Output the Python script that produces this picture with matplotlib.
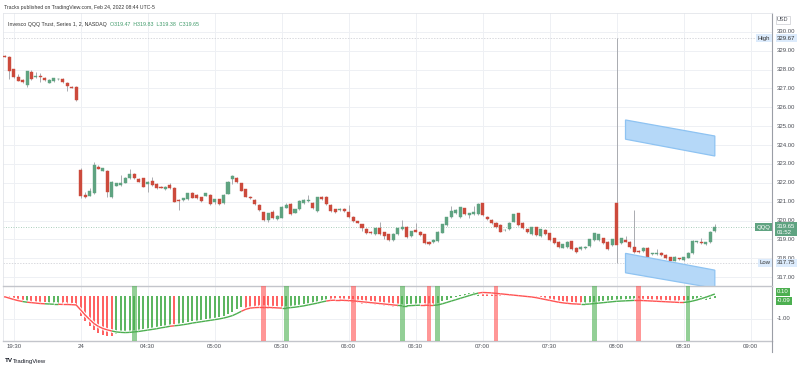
import numpy as np
import pandas as pd
import matplotlib
matplotlib.use('Agg')
import matplotlib.pyplot as plt
from matplotlib.patches import Polygon
from matplotlib.collections import LineCollection
from matplotlib.lines import Line2D
import matplotlib.transforms as mtrans

# QQQ, 2-minute bars, Feb 23 19:26 -> 19:58 and Feb 24 04:00 -> 08:44
bar_open = [
    328.72, 328.66, 328.02, 327.60, 327.45, 327.20, 327.88, 327.60, 327.68, 327.54,
    327.31, 327.42, 327.48, 327.50, 327.31, 327.10, 327.10, 322.68, 321.35, 321.32,
    321.44, 322.86, 322.63, 322.64, 321.27, 321.85, 321.88, 322.00, 322.24, 322.45,
    322.20, 322.24, 321.92, 322.10, 321.94, 321.78, 321.67, 321.87, 321.74, 321.08,
    321.07, 321.12, 321.48, 321.34, 321.23, 321.32, 321.35, 320.97, 321.12, 320.91,
    321.41, 322.19, 322.27, 321.97, 321.65, 321.27, 321.09, 320.84, 320.44, 320.03,
    320.47, 320.06, 320.15, 320.68, 320.88, 320.42, 320.60, 320.91, 321.03, 320.95,
    320.50, 321.27, 321.27, 320.82, 320.60, 320.56, 320.61, 320.44, 320.20, 319.97,
    319.80, 319.55, 319.41, 319.28, 319.59, 319.37, 319.28, 318.97, 319.28, 319.56,
    319.67, 319.19, 319.50, 319.41, 319.28, 318.88, 318.84, 318.91, 319.35, 319.76,
    320.17, 320.38, 320.20, 320.65, 320.30, 320.34, 320.33, 320.91, 320.20, 320.03,
    319.88, 319.76, 319.48, 319.55, 319.94, 320.38, 319.88, 319.53, 319.28, 319.64,
    319.19, 319.50, 319.32, 319.06, 318.88, 318.56, 318.61, 318.91, 318.56, 318.47,
    318.52, 318.65, 318.97, 318.97, 319.06, 318.88, 318.70, 320.91, 318.79, 318.97,
    318.88, 318.61, 318.38, 318.38, 318.56, 318.22, 318.22, 318.29, 318.17, 318.05,
    317.87, 317.99, 317.90, 318.03, 318.26, 318.84, 318.84, 318.74, 318.84, 319.47]
bar_high = [
    328.75, 328.70, 328.05, 327.75, 327.48, 327.95, 328.00, 327.85, 327.80, 327.60,
    327.48, 327.58, 327.56, 327.53, 327.33, 327.13, 327.12, 322.77, 321.50, 321.74,
    323.10, 322.95, 322.80, 322.70, 322.10, 322.00, 322.41, 322.30, 322.73, 322.50,
    322.25, 322.27, 322.08, 322.29, 321.97, 321.82, 321.83, 322.00, 321.77, 321.12,
    321.22, 321.47, 321.52, 321.38, 321.27, 321.48, 321.38, 321.16, 321.15, 321.38,
    322.10, 322.40, 322.30, 322.00, 321.68, 321.30, 321.12, 320.87, 320.47, 320.42,
    320.55, 320.27, 320.76, 320.95, 320.91, 320.63, 321.08, 321.12, 321.35, 320.98,
    321.26, 321.30, 321.30, 320.85, 320.63, 320.66, 320.64, 320.82, 320.23, 320.00,
    319.83, 319.58, 319.44, 319.62, 319.94, 319.40, 319.31, 319.34, 319.62, 320.03,
    319.70, 319.47, 319.88, 319.44, 319.31, 318.91, 319.00, 319.44, 319.84, 320.20,
    320.79, 320.59, 320.73, 320.68, 320.41, 320.79, 320.95, 320.94, 320.23, 320.06,
    319.91, 319.79, 319.56, 319.91, 320.37, 320.41, 319.91, 319.56, 319.67, 319.67,
    319.56, 319.53, 319.35, 319.09, 318.91, 318.77, 318.91, 318.94, 318.59, 318.64,
    318.64, 319.03, 319.35, 319.31, 319.09, 318.91, 319.03, 329.67, 319.09, 319.20,
    318.91, 320.56, 318.42, 318.59, 318.59, 318.30, 318.50, 318.32, 318.20, 318.08,
    318.11, 318.02, 318.08, 318.32, 318.96, 318.94, 319.10, 318.87, 319.44, 319.83]
bar_low = [
    328.65, 327.50, 327.55, 327.38, 327.28, 327.07, 327.45, 327.55, 327.36, 327.40,
    327.28, 327.35, 327.45, 327.30, 326.85, 327.02, 326.32, 321.18, 321.20, 321.30,
    321.40, 322.72, 322.60, 321.27, 321.20, 321.82, 321.85, 321.97, 322.20, 322.20,
    322.02, 321.77, 321.53, 321.85, 321.68, 321.70, 321.64, 321.66, 320.96, 320.56,
    321.03, 321.08, 321.17, 321.14, 321.00, 321.28, 320.84, 320.90, 320.84, 320.87,
    321.38, 321.95, 322.00, 321.54, 321.23, 321.16, 320.84, 320.52, 319.98, 319.94,
    320.08, 320.02, 320.12, 320.65, 320.29, 320.38, 320.57, 320.88, 321.00, 320.61,
    320.47, 321.10, 320.82, 320.46, 320.40, 320.52, 320.46, 320.16, 319.93, 319.85,
    319.45, 319.31, 319.28, 319.25, 319.23, 319.00, 318.93, 318.93, 319.25, 319.52,
    319.10, 319.15, 319.37, 319.19, 318.78, 318.71, 318.80, 318.88, 319.32, 319.73,
    320.14, 320.34, 320.16, 320.29, 320.12, 320.31, 320.30, 320.25, 320.04, 319.81,
    319.63, 319.37, 319.44, 319.52, 319.90, 319.72, 319.55, 319.33, 319.24, 319.19,
    319.15, 319.23, 318.93, 318.78, 318.57, 318.53, 318.57, 318.45, 318.30, 318.43,
    318.48, 318.61, 318.93, 318.93, 318.75, 318.43, 318.66, 317.75, 318.75, 318.84,
    318.57, 318.30, 318.30, 318.34, 318.04, 318.18, 318.18, 318.13, 317.95, 317.83,
    317.83, 317.92, 317.86, 317.99, 318.22, 318.80, 318.75, 318.70, 318.80, 319.38]
bar_close = [
    328.68, 327.95, 327.60, 327.42, 327.32, 327.93, 327.50, 327.68, 327.60, 327.44,
    327.44, 327.55, 327.52, 327.33, 327.14, 327.05, 326.39, 321.32, 321.23, 321.57,
    322.93, 322.75, 322.77, 321.53, 322.06, 321.97, 322.00, 322.27, 322.47, 322.24,
    322.06, 321.80, 322.04, 321.88, 321.72, 321.73, 321.80, 321.70, 321.00, 321.05,
    321.18, 321.44, 321.21, 321.18, 321.05, 321.44, 320.88, 321.12, 320.88, 321.35,
    322.06, 322.36, 322.03, 321.58, 321.27, 321.20, 320.88, 320.56, 320.03, 320.38,
    320.12, 320.24, 320.73, 320.80, 320.33, 320.60, 321.05, 321.09, 321.10, 320.65,
    321.23, 321.14, 320.86, 320.50, 320.44, 320.62, 320.50, 320.20, 319.97, 319.88,
    319.62, 319.35, 319.32, 319.59, 319.27, 319.18, 318.97, 319.31, 319.59, 319.64,
    319.14, 319.44, 319.41, 319.23, 318.82, 318.75, 318.97, 319.41, 319.81, 320.17,
    320.52, 320.56, 320.70, 320.33, 320.38, 320.47, 320.88, 320.29, 320.08, 319.85,
    319.67, 319.41, 319.52, 319.88, 320.34, 319.76, 319.59, 319.37, 319.64, 319.23,
    319.53, 319.27, 318.97, 318.82, 318.61, 318.74, 318.88, 318.49, 318.34, 318.61,
    318.61, 319.00, 319.32, 319.28, 318.79, 318.47, 319.00, 318.70, 319.06, 318.88,
    318.61, 318.34, 318.34, 318.56, 318.08, 318.26, 318.29, 318.17, 317.99, 317.87,
    318.08, 317.96, 318.05, 318.29, 318.93, 318.91, 318.79, 318.84, 319.41, 319.65]

# lower pane: histogram and its line
hist = [
    -0.07, -0.12, -0.17, -0.21, -0.25, -0.23, -0.28, -0.31, -0.34, -0.37,
    -0.35, -0.34, -0.33, -0.36, -0.38, -0.39, -0.41, -0.85, -1.07, -1.29,
    -1.48, -1.62, -1.69, -1.73, -1.76, -1.66, -1.63, -1.60, -1.57, -1.54,
    -1.51, -1.47, -1.44, -1.40, -1.37, -1.32, -1.29, -1.25, -1.27, -1.23,
    -1.19, -1.15, -1.10, -1.07, -1.04, -1.01, -0.98, -0.96, -0.91, -0.85,
    -0.78, -0.68, -0.57, -0.48, -0.50, -0.51, -0.52, -0.53, -0.54, -0.55,
    -0.56, -0.57, -0.58, -0.52, -0.48, -0.44, -0.40, -0.36, -0.32, -0.28,
    -0.24, -0.20, -0.16, -0.18, -0.20, -0.22, -0.24, -0.26, -0.28, -0.30,
    -0.32, -0.34, -0.36, -0.38, -0.40, -0.42, -0.44, -0.46, -0.48, -0.45,
    -0.43, -0.41, -0.39, -0.37, -0.39, -0.41, -0.42, -0.30, -0.22, -0.15,
    -0.08, -0.02, 0.04, 0.09, 0.13, 0.17, 0.20, 0.16, 0.14, 0.12,
    0.10, 0.08, 0.06, 0.04, 0.02, 0.00, -0.02, -0.03, -0.05, -0.08,
    -0.12, -0.16, -0.20, -0.24, -0.27, -0.30, -0.32, -0.34, -0.35, -0.36,
    -0.33, -0.30, -0.27, -0.24, -0.22, -0.20, -0.18, -0.17, -0.16, -0.15,
    -0.14, -0.13, -0.15, -0.17, -0.19, -0.21, -0.23, -0.25, -0.26, -0.27,
    -0.28, -0.29, -0.30, -0.28, -0.25, -0.21, -0.18, -0.15, -0.12, -0.09]
signal = [
    -0.02, -0.08, -0.14, -0.19, -0.23, -0.26, -0.28, -0.30, -0.32, -0.33,
    -0.34, -0.35, -0.35, -0.36, -0.36, -0.37, -0.38, -0.60, -0.82, -1.02,
    -1.20, -1.33, -1.42, -1.48, -1.53, -1.57, -1.59, -1.60, -1.59, -1.57,
    -1.55, -1.52, -1.49, -1.46, -1.43, -1.39, -1.36, -1.32, -1.30, -1.28,
    -1.25, -1.22, -1.18, -1.15, -1.12, -1.09, -1.06, -1.03, -1.00, -0.96,
    -0.91, -0.85, -0.76, -0.66, -0.57, -0.52, -0.50, -0.49, -0.49, -0.49,
    -0.50, -0.51, -0.52, -0.52, -0.50, -0.48, -0.45, -0.42, -0.38, -0.34,
    -0.30, -0.25, -0.21, -0.18, -0.17, -0.17, -0.18, -0.19, -0.20, -0.22,
    -0.24, -0.26, -0.28, -0.30, -0.32, -0.34, -0.36, -0.38, -0.40, -0.42,
    -0.42, -0.41, -0.40, -0.39, -0.39, -0.40, -0.40, -0.38, -0.33, -0.27,
    -0.21, -0.15, -0.09, -0.03, 0.03, 0.09, 0.14, 0.17, 0.16, 0.15,
    0.13, 0.11, 0.09, 0.07, 0.05, 0.03, 0.01, -0.01, -0.03, -0.06,
    -0.10, -0.14, -0.18, -0.22, -0.26, -0.29, -0.31, -0.33, -0.34, -0.35,
    -0.35, -0.34, -0.32, -0.30, -0.28, -0.26, -0.24, -0.22, -0.21, -0.20,
    -0.19, -0.18, -0.18, -0.19, -0.20, -0.21, -0.22, -0.23, -0.24, -0.25,
    -0.26, -0.27, -0.27, -0.25, -0.21, -0.16, -0.10, -0.04, 0.03, 0.10]

# highlighted bars in the lower pane
band_idx = [29, 58, 63, 78, 89, 95, 97, 110, 132, 142, 153]
band_side = ['up', 'down', 'up', 'down', 'up', 'down', 'up', 'down', 'up', 'down', 'up']

# projected channel (bar index, price)
chan_x = [139, 159]
chan_up_top = [325.33, 324.48]
chan_up_bot = [324.31, 323.42]
chan_lo_top = [318.26, 317.37]
chan_lo_bot = [317.23, 316.41]

price_ticks = [317, 318, 319, 320, 321, 322, 323, 324, 325, 326, 327, 328, 329, 330]
ind_last_labels = ['0.10', '-0.09']
tick_times = ['2022-02-23 19:30', '2022-02-24 00:00', '2022-02-24 04:30', '2022-02-24 05:00',
              '2022-02-24 05:30', '2022-02-24 06:00', '2022-02-24 06:30', '2022-02-24 07:00',
              '2022-02-24 07:30', '2022-02-24 08:00', '2022-02-24 08:30', '2022-02-24 09:00']
tick_labels = ['19:30', '24', '04:30', '05:00', '05:30', '06:00', '06:30', '07:00',
               '07:30', '08:00', '08:30', '09:00']

times = list(pd.date_range('2022-02-23 19:26', '2022-02-23 19:58', freq='2min')) + \
    list(pd.date_range('2022-02-24 04:00', '2022-02-24 08:44', freq='2min'))
n = len(times)
x = np.arange(n)
o, h, l, c = map(np.array, (bar_open, bar_high, bar_low, bar_close))
hist = np.array(hist)
signal = np.array(signal)


def time_to_idx(t):
    t = pd.Timestamp(t)
    if t.hour == 0:  # day label sits on the session open
        t = t + pd.Timedelta(hours=4)
    if t in times:
        return times.index(t)
    return n - 1 + (t - times[-1]) / pd.Timedelta(minutes=2)


tick_pos = [time_to_idx(t) for t in tick_times]

UP, DN = '#5fa381', '#cc4a3c'
HUP, HDN = '#4caf50', '#ff5252'
GRID = '#eef0f4'
AXC = '#9b9ea6'
TXT = '#4a4d55'
FONT = 'Liberation Sans'
plt.rcParams['font.family'] = [FONT, 'DejaVu Sans']

W, H = 800, 368
fig = plt.figure(figsize=(8, 3.68), dpi=100)
fig.patch.set_facecolor('white')
L, R = 3, 772
ax = fig.add_axes([L / W, 1 - 286 / H, (R - L) / W, 273 / H])
axi = fig.add_axes([L / W, 1 - 341 / H, (R - L) / W, 55 / H])
xlim = (-0.38, 171.8)

# ---- main pane
ax.set_xlim(*xlim)
ax.set_ylim(316.53, 331.0)
ax.set_xticks([])
ax.set_yticks([])
for p in price_ticks:
    ax.axhline(p, color=GRID, lw=0.7, zorder=0)
for tp in tick_pos:
    ax.axvline(tp, color=GRID, lw=0.7, zorder=0)
for s in ['left', 'top']:
    ax.spines[s].set_color('#e3e5ea')
    ax.spines[s].set_linewidth(0.6)
ax.spines['bottom'].set_visible(False)
ax.spines['right'].set_color(AXC)
ax.spines['right'].set_linewidth(0.8)

cols = np.where(c >= o, UP, DN)
ax.vlines(x, l, h, color='#a9abb0', lw=0.7, zorder=2)
body_b = np.minimum(o, c)
body_h = np.maximum(np.abs(c - o), 0.03)
ax.bar(x, body_h, bottom=body_b, width=0.68, color=cols, edgecolor=cols, lw=0.3, zorder=3)

for top, bot in [(chan_up_top, chan_up_bot), (chan_lo_top, chan_lo_bot)]:
    poly = Polygon([(chan_x[0], top[0]), (chan_x[1], top[1]), (chan_x[1], bot[1]), (chan_x[0], bot[0])],
                   closed=True, facecolor='#b5d8f8', edgecolor='#8ec3f2', lw=0.9, zorder=4)
    ax.add_patch(poly)

# high / low / last price markers
hi_val, lo_val, last_val = h.max(), l.min(), c[-1]
ax.axhline(hi_val, color='#c9cbd1', lw=0.5, ls=(0, (2, 2)), zorder=1)
ax.axhline(lo_val, color='#c9cbd1', lw=0.5, ls=(0, (2, 2)), zorder=1)
ax.axhline(last_val, color=UP, lw=0.6, ls=(0, (1, 2)), alpha=0.7, zorder=1)

ytr = ax.get_yaxis_transform()
for p in price_ticks:
    ax.text(1.0065, p, f'{p:.2f}', transform=ytr, fontsize=4.3, color=TXT,
            va='center', ha='left', clip_on=False)
box_lb = dict(boxstyle='square,pad=0.25', fc='#dcebfc', ec='none')
ax.text(1.0065, hi_val, f'{hi_val:.2f}', transform=ytr, fontsize=4.3, color='#333',
        va='center', ha='left', bbox=box_lb, zorder=6)
ax.text(0.998, hi_val, 'High', transform=ytr, fontsize=4.3, color='#333',
        va='center', ha='right', bbox=box_lb, zorder=6)
ax.text(1.0065, lo_val, f'{lo_val:.2f}', transform=ytr, fontsize=4.3, color='#333',
        va='center', ha='left', bbox=box_lb, zorder=6)
ax.text(0.998, lo_val, 'Low', transform=ytr, fontsize=4.3, color='#333',
        va='center', ha='right', bbox=box_lb, zorder=6)
ax.text(1.0065, last_val - 0.12, f'{last_val:.2f}\n01:52', transform=ytr, fontsize=4.3,
        color='white', va='center', ha='left', linespacing=1.1,
        bbox=dict(boxstyle='square,pad=0.3', fc=UP, ec='none'), zorder=6)
ax.text(0.998, last_val, 'QQQ', transform=ytr, fontsize=4.3, color='white',
        va='center', ha='right', bbox=dict(boxstyle='square,pad=0.3', fc=UP, ec='none'), zorder=6)
ax.text(1.0065, 330.64, 'USD', transform=ytr, fontsize=4.0, color=TXT, va='center', ha='left',
        bbox=dict(boxstyle='square,pad=0.25', fc='white', ec='#c9cbd1', lw=0.5), zorder=6)

# legend line in the pane
ax.text(0.0065, 0.958, 'Invesco QQQ Trust, Series 1, 2, NASDAQ', transform=ax.transAxes,
        fontsize=3.8, color='#333', va='center', ha='left')
ax.text(0.1395, 0.958, f'O{o[-1]:.2f}  H{h[-1]:.2f}  L{l[-1]:.2f}  C{c[-1]:.2f}',
        transform=ax.transAxes, fontsize=3.8, color='#3f9a69', va='center', ha='left')

# ---- indicator pane
axi.set_xlim(*xlim)
axi.set_ylim(-1.97, 0.454)
axi.set_xticks([])
axi.set_yticks([])
axi.axhline(-1.0, color=GRID, lw=0.7, zorder=0)
for tp in tick_pos:
    axi.axvline(tp, color=GRID, lw=0.7, zorder=0)
axi.spines['left'].set_color('#e3e5ea')
axi.spines['left'].set_linewidth(0.6)
axi.spines['top'].set_color('#c3c5cb')
axi.spines['top'].set_linewidth(1.0)
axi.spines['bottom'].set_color('#c3c5cb')
axi.spines['bottom'].set_linewidth(1.0)
axi.spines['right'].set_color(AXC)
axi.spines['right'].set_linewidth(0.8)

rising = np.r_[False, hist[1:] >= hist[:-1]]
hcols = np.where(rising, HUP, HDN)
axi.vlines(x, 0, hist, colors=hcols, lw=1.3, zorder=2)
segs = [[(i - 1, signal[i - 1]), (i, signal[i])] for i in range(1, n)]
axi.add_collection(LineCollection(segs, colors='white', lw=2.6, zorder=3))
axi.add_collection(LineCollection(segs, colors=hcols[1:], lw=1.0, zorder=4))
for bi, side in zip(band_idx, band_side):
    axi.axvspan(bi - 0.55, bi + 0.55, color=HUP if side == 'up' else HDN, alpha=0.6, lw=0, zorder=5)

itr = axi.get_yaxis_transform()
axi.text(1.0065, -1.0, '-1.00', transform=itr, fontsize=4.3, color=TXT, va='center', ha='left')
gbox = dict(boxstyle='square,pad=0.25', fc=HUP, ec='none')
axi.text(1.0065, 0.2, ind_last_labels[0], transform=itr, fontsize=4.3, color='white',
         va='center', ha='left', bbox=gbox, zorder=6)
axi.text(1.0065, -0.2, ind_last_labels[1], transform=itr, fontsize=4.3, color='white',
         va='center', ha='left', bbox=gbox, zorder=6)

# time axis labels
btr = mtrans.blended_transform_factory(axi.transData, axi.transAxes)
for tp, lab in zip(tick_pos, tick_labels):
    axi.text(tp, -0.1, lab, transform=btr, fontsize=4.3, color=TXT, ha='center', va='center',
             clip_on=False)

# axis line running down past the time scale
fig.add_artist(Line2D([R / W, R / W], [1 - 341 / H, 1 - 352 / H], color=AXC, lw=0.8))

fig.text(4 / W, 1 - 7 / H, 'Tracks published on TradingView.com, Feb 24, 2022 08:44 UTC-5',
         fontsize=3.7, color='#333', va='center', ha='left')
fig.text(5 / W, 1 - 361 / H, 'TV', fontsize=4.5, fontweight='bold', color='#131722',
         va='center', ha='left')
fig.text(13 / W, 1 - 361 / H, 'TradingView', fontsize=4.3, color='#131722', va='center', ha='left')

fig.savefig('out.png', dpi=100, facecolor='white')
